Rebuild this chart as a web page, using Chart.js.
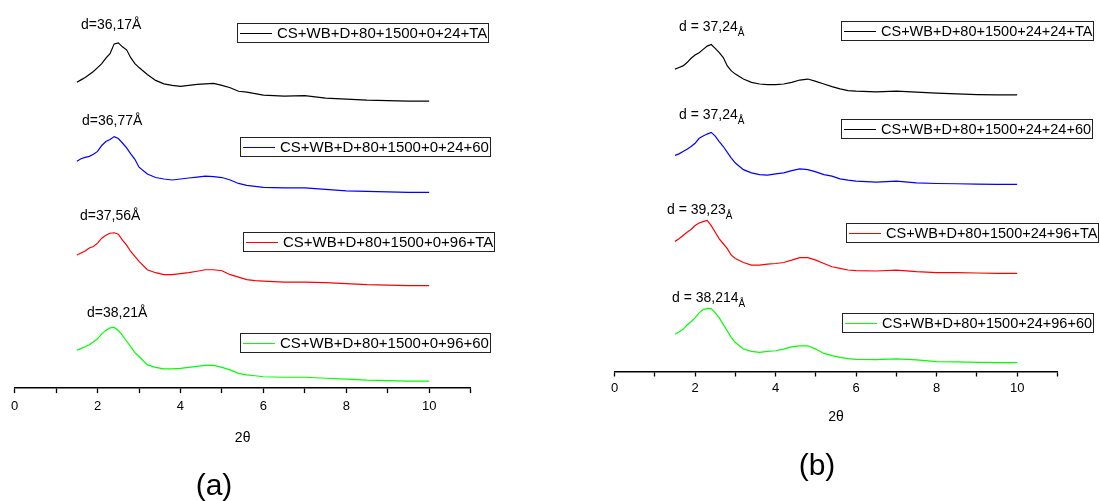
<!DOCTYPE html>
<html>
<head>
<meta charset="utf-8">
<script src="https://cdn.jsdelivr.net/npm/chart.js@4"></script>
<style>
  body { margin: 0; background: #fff; }
  #wrap { position: relative; width: 1100px; height: 501px; overflow: hidden; background: #fff;
          font-family: 'Liberation Sans', Arial, sans-serif; color: #000; }
  canvas { position: absolute; top: 0; }
  .leg { position: absolute; height: 18px; border: 1px solid #222; line-height: 18px;
         white-space: nowrap; box-sizing: content-box; padding-right: 1px; }
  .leg .sw { display: inline-block; width: 32px; height: 1px; vertical-align: middle;
             margin: 0 5px 0 2px; position: relative; top: -1px; }
  .dlab { position: absolute; font-size: 14px; line-height: 16px; white-space: nowrap; }
  .dlab sub { font-size: 10px; vertical-align: -5px; }
  .tag { position: absolute; font-size: 30px; line-height: 30px; transform: translateX(-50%); }
</style>
</head>
<body>
<div id="wrap">
  <canvas id="chartA" width="550" height="501" style="left:0"></canvas>
  <canvas id="chartB" width="550" height="501" style="left:550px"></canvas>
</div>
<script>
// 2θ grid (degrees) shared by all patterns
const twoTheta = [1.5, 1.6, 1.7, 1.8, 1.9, 2.0, 2.1, 2.2, 2.3, 2.4, 2.5, 2.6, 2.7, 2.8, 2.9, 3.0,
                  3.2, 3.4, 3.6, 3.8, 4.0, 4.2, 4.4, 4.6, 4.8, 5.0, 5.2, 5.4, 5.6, 5.8, 6.0,
                  6.5, 7.0, 7.5, 8.0, 8.5, 9.0, 9.5, 10];
const xTicks = [0, 2, 4, 6, 8, 10];

// panel (a) - stacked intensities (a.u.)
const labelsA = ['CS+WB+D+80+1500+0+24+TA', 'CS+WB+D+80+1500+0+24+60',
                 'CS+WB+D+80+1500+0+96+TA', 'CS+WB+D+80+1500+0+96+60'];
const dA = ['d=36,17Å', 'd=36,77Å', 'd=37,56Å', 'd=38,21Å'];
const a_24_TA = [310, 312.5, 315, 318, 321, 325, 329, 334.5, 339, 349, 350, 346, 343, 335, 329, 325,
                 318, 312, 308.5, 307, 306, 307, 308, 308.5, 309, 307, 304.5, 301, 300, 298.5, 297,
                 296, 296.5, 294, 293, 292, 291.5, 291, 291];
const a_24_60 = [230, 232.5, 234, 235, 237, 240, 246, 250, 252, 255, 253, 248.5, 243.5, 237.5, 232, 224,
                 217, 213.5, 212, 211, 212, 213, 214, 215, 214.5, 213.5, 211, 207.5, 205.5, 204.5, 203.5,
                 203, 203, 201.5, 200, 199.5, 199, 198.5, 198.5];
const a_96_TA = [135, 137, 139, 142, 143.5, 147, 152, 155, 157, 157.5, 156, 150, 145, 138.5, 133.5, 128.5,
                 120, 117, 115, 115, 116, 117, 118.5, 120, 120, 119, 115, 112.5, 110, 109, 108.5,
                 107.5, 107.5, 107, 106, 105, 104.5, 104, 104];
const a_96_60 = [38.5, 40, 42, 44, 47, 50, 55, 58.5, 61, 61.5, 58.5, 53.5, 47.5, 42, 36, 32,
                 23.5, 21, 19.5, 19.5, 20, 21, 22, 23, 23, 21, 18.5, 15, 13.5, 12.5, 11.5,
                 11, 11, 10, 9, 8, 7.5, 7, 7];

// panel (b)
const labelsB = ['CS+WB+D+80+1500+24+24+TA', 'CS+WB+D+80+1500+24+24+60',
                 'CS+WB+D+80+1500+24+96+TA', 'CS+WB+D+80+1500+24+96+60'];
const dB = ['37,24', '37,24', '39,23', '38,214'];
const b_24_TA = [306, 307.7, 309.3, 312.7, 317, 320.3, 322.7, 326, 329.3, 331, 327, 322.7, 317.7, 309.3, 304.3, 301,
                 296, 292.7, 291, 290.3, 290.3, 291, 292.7, 295, 296, 293.7, 291, 288.3, 286, 284.3, 283.7,
                 283, 283.7, 282.7, 281.7, 281, 280.3, 280, 280];
const b_24_60 = [218.7, 220.3, 222.7, 225, 227.7, 231, 236, 238.3, 240.3, 242, 238.3, 232.7, 227.7, 221.7, 216, 211,
                 204.3, 201, 199.3, 198.7, 200, 201, 203.3, 205, 204.3, 202, 199.3, 197.7, 195, 193.7, 192.7,
                 191.7, 192.7, 191, 190.3, 190, 189.7, 189.3, 189.3];
const b_96_TA = [131.7, 134.3, 137.7, 141, 143.7, 147.7, 150.3, 151.7, 153, 147.7, 141, 134.3, 129.3, 124.3, 117.7, 114.3,
                 110.3, 107.7, 107.7, 108.7, 109.3, 110.3, 112.7, 115.3, 115.3, 112.7, 109.3, 106, 104.3, 102.7, 102,
                 101.7, 102.7, 101, 100, 100, 99.7, 99.3, 99.3];
const b_96_60 = [37.7, 40, 42.7, 47, 50.3, 54.3, 59.3, 62.7, 63.7, 63.7, 59.3, 54.3, 47.7, 41, 34.3, 29.3,
                 22.7, 20.3, 19.3, 20.3, 21, 22.7, 25, 26, 26, 22.7, 18.3, 16, 14.3, 13, 12.3,
                 12, 12.7, 11.7, 10, 9.7, 9.3, 9, 9];

const lineColors = ['#000000', '#0000ff', '#ff0000', '#00ff00'];
const swatchB = ['#000000', '#000000', '#ff0000', '#00ff00'];   // (b) legend 2 uses a black swatch

Chart.defaults.font.family = "'Liberation Sans', Arial, sans-serif";
Chart.defaults.color = '#000';

const makePanel = (id, series, labels, g) => {
    new Chart(document.getElementById(id), {
        type: 'line',
        data: {
            datasets: series.map((s, i) => ({
                label: labels[i],
                data: twoTheta.map((x, j) => ({ x, y: s[j] })),
                borderColor: lineColors[i],
                borderWidth: 1.2,
                pointRadius: 0,
                tension: 0,
                fill: false
            }))
        },
        options: {
            responsive: false,
            animation: false,
            layout: { padding: { left: g.left, right: g.right, top: 0, bottom: g.bottom } },
            plugins: { legend: { display: false }, tooltip: { enabled: false } },
            scales: {
                x: {
                    type: 'linear', min: 0, max: 11,
                    afterBuildTicks: ax => { ax.ticks = Array.from({ length: 12 }, (_, v) => ({ value: v })); },
                    ticks: {
                        autoSkip: false, maxRotation: 0, padding: g.tickPad,
                        font: { size: 13 },
                        callback: v => xTicks.includes(v) ? String(v) : ''
                    },
                    grid: { drawOnChartArea: false, drawTicks: true, tickLength: 5, tickColor: '#000', tickWidth: 1.3 },
                    border: { color: '#000', width: 1.5 },
                    title: { display: true, text: '2θ', font: { size: 14 }, padding: { top: g.titlePad, bottom: 0 } }
                },
                y: { display: false, min: 0, max: g.axisY }
            }
        }
    });
};

makePanel('chartA', [a_24_TA, a_24_60, a_96_TA, a_96_60], labelsA,
          { left: 14.7, right: 79.4, bottom: 54.3, tickPad: 5.4, titlePad: 10.4, axisY: 393.5 });
makePanel('chartB', [b_24_TA, b_24_60, b_96_TA, b_96_60], labelsB,
          { left: 64.6, right: 42.6, bottom: 75.9, tickPad: 4.5, titlePad: 7.2, axisY: 376 });

// legend boxes and d-spacing notes
const wrap = document.getElementById('wrap');
const legPos = [
    [237, 23, 15], [240, 137, 15], [243, 232, 15], [240, 333, 15],
    [841, 21, 14.5], [841, 119, 14.5], [846, 223, 14.5], [842, 313, 14.5]
];
const allLabels = labelsA.concat(labelsB);
const allSw = lineColors.concat(swatchB);
allLabels.forEach((txt, i) => {
    const el = document.createElement('div');
    el.className = 'leg';
    el.style.left = legPos[i][0] + 'px';
    el.style.top = legPos[i][1] + 'px';
    el.style.fontSize = legPos[i][2] + 'px';
    el.innerHTML = `<span class="sw" style="background:${allSw[i]}"></span>${txt}`;
    wrap.appendChild(el);
});

const dPos = [[81, 16], [82, 112], [80, 207], [87, 304], [679, 18], [679, 106], [667, 201], [672, 289]];
dA.forEach((t, i) => {
    const el = document.createElement('div');
    el.className = 'dlab';
    el.style.left = dPos[i][0] + 'px';
    el.style.top = dPos[i][1] + 'px';
    el.textContent = t;
    wrap.appendChild(el);
});
dB.forEach((t, i) => {
    const el = document.createElement('div');
    el.className = 'dlab';
    el.style.left = dPos[i + 4][0] + 'px';
    el.style.top = dPos[i + 4][1] + 'px';
    el.innerHTML = `d = ${t}<sub>Å</sub>`;
    wrap.appendChild(el);
});

[['(a)', 214, 470], ['(b)', 817, 450]].forEach(([t, x, y]) => {
    const el = document.createElement('div');
    el.className = 'tag';
    el.style.left = x + 'px';
    el.style.top = y + 'px';
    el.textContent = t;
    wrap.appendChild(el);
});
</script>
</body>
</html>
